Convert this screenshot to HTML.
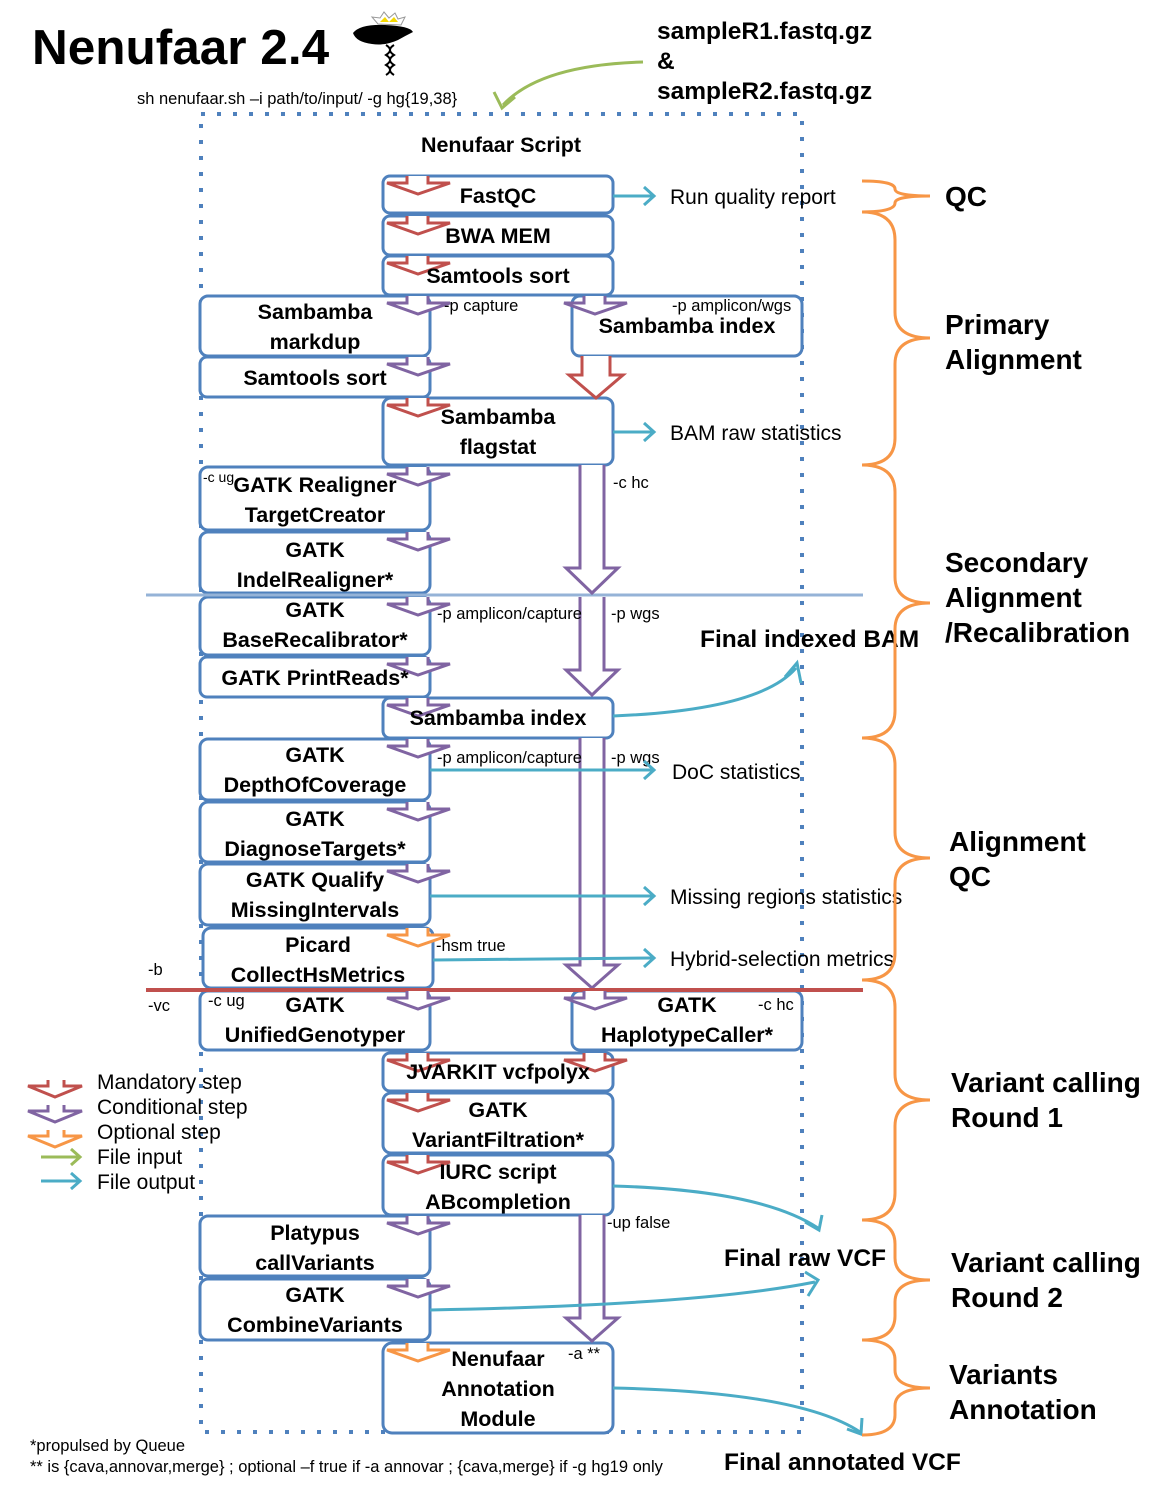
<!DOCTYPE html>
<html><head><meta charset="utf-8"><style>
html,body{margin:0;padding:0;background:#fff;}
svg{display:block;}
text{font-family:"Liberation Sans",sans-serif;fill:#000;}
.b{font-weight:bold;}
.bx{font-weight:bold;font-size:21.5px;text-anchor:middle;}
.s{font-size:16.5px;}
.r{font-size:21px;}
.sec{font-weight:bold;font-size:28px;}
</style></head><body>
<svg width="1166" height="1507" viewBox="0 0 1166 1507" xmlns="http://www.w3.org/2000/svg">
<!-- title -->
<text x="32" y="64" class="b" font-size="49.5">Nenufaar 2.4</text>
<!-- logo -->
<path d="M378,24 L372,17 L380,18 L384,12 L389,18 L395,13 L398,19 L405,17 L401,25 Z" fill="#fff" stroke="#999" stroke-width="1"/>
<path d="M380,22 L385,17 L389,22 L394,17 L398,22 Z" fill="#f5d800"/>
<path d="M353,33 Q360,24 385,25 Q410,26 413,32 Q405,36 398,40 Q385,46 372,44 Q356,42 353,33 Z" fill="#000"/>
<g stroke="#000" stroke-width="2" fill="none">
<path d="M386,45 Q394,50 386,55 Q394,60 386,65 Q394,70 386,75"/>
<path d="M394,45 Q386,50 394,55 Q386,60 394,65 Q386,70 394,75"/>
</g>
<text x="137" y="104" font-size="16.5">sh nenufaar.sh –i path/to/input/ -g hg{19,38}</text>
<text x="657" y="39" class="b" font-size="24.5">sampleR1.fastq.gz</text>
<text x="657" y="69" class="b" font-size="24.5">&amp;</text>
<text x="657" y="99" class="b" font-size="24.5">sampleR2.fastq.gz</text>
<!-- green input -->
<path d="M643,62 Q540,65 503,105" fill="none" stroke="#9bbb59" stroke-width="3"/>
<path d="M494,92 L502,108 L515,97" fill="none" stroke="#9bbb59" stroke-width="3"/>

<!-- dotted outline -->
<rect x="201" y="114" width="601" height="1318" fill="none" stroke="#4f81bd" stroke-width="4" stroke-dasharray="4 12"/>
<text x="501" y="152" class="b" font-size="21.5" text-anchor="middle">Nenufaar Script</text>

<!-- boxes -->
<g fill="#fff" stroke="#4f81bd" stroke-width="3">
<rect x="383" y="176" width="230" height="37" rx="7"/>
<rect x="383" y="216" width="230" height="39" rx="7"/>
<rect x="383" y="256" width="230" height="39" rx="7"/>
<rect x="200" y="296" width="230" height="60" rx="8"/>
<rect x="572" y="296" width="230" height="60" rx="8"/>
<rect x="200" y="357" width="230" height="40" rx="7"/>
<rect x="383" y="398" width="230" height="67" rx="8"/>
<rect x="200" y="467" width="230" height="63" rx="8"/>
<rect x="200" y="532" width="230" height="61" rx="8"/>
<rect x="200" y="597" width="230" height="58" rx="8"/>
<rect x="200" y="657" width="230" height="40" rx="7"/>
<rect x="383" y="698" width="230" height="40" rx="7"/>
<rect x="200" y="739" width="230" height="61" rx="8"/>
<rect x="200" y="802" width="230" height="60" rx="8"/>
<rect x="200" y="864" width="230" height="61" rx="8"/>
<rect x="203" y="928" width="230" height="60" rx="8"/>
<rect x="200" y="991" width="230" height="59" rx="8"/>
<rect x="572" y="991" width="230" height="59" rx="8"/>
<rect x="383" y="1053" width="230" height="38" rx="7"/>
<rect x="383" y="1093" width="230" height="60" rx="8"/>
<rect x="383" y="1155" width="230" height="60" rx="8"/>
<rect x="200" y="1216" width="230" height="60" rx="8"/>
<rect x="200" y="1279" width="230" height="61" rx="8"/>
<rect x="383" y="1343" width="230" height="90" rx="9"/>
</g>

<!-- lines -->
<line x1="146" y1="595" x2="863" y2="595" stroke="#95b3d7" stroke-width="3"/>

<!-- long arrows -->
<g fill="#fff" stroke-width="3" stroke-linejoin="miter">
<path d="M580,465 L580,568 L566,568 L592,593 L618,568 L604,568 L604,465" stroke="#8064a2"/>
<path d="M580,597 L580,670 L566,670 L592,695 L618,670 L604,670 L604,597" stroke="#8064a2"/>
<path d="M580,738 L580,965 L566,965 L592,988 L618,965 L604,965 L604,738" stroke="#8064a2"/>
<path d="M580,1215 L580,1318 L566,1318 L592,1341 L618,1318 L604,1318 L604,1215" stroke="#8064a2"/>
<path d="M582,356 L582,375 L569,375 L596,398 L623,375 L610,375 L610,356" stroke="#c0504d"/>
</g>
<line x1="146" y1="990" x2="863" y2="990" stroke="#c0504d" stroke-width="4"/>

<!-- small arrows -->
<g fill="#fff" stroke-width="3">
<g stroke="#c0504d">
<path d="M407,176 L407,183 L387,183 L418,194 L450,183 L428,183 L428,176"/>
<path d="M407,216 L407,223 L387,223 L418,234 L450,223 L428,223 L428,216"/>
<path d="M407,256 L407,263 L387,263 L418,274 L450,263 L428,263 L428,256"/>
<path d="M407,398 L407,405 L387,405 L418,416 L450,405 L428,405 L428,398"/>
<path d="M407,1053 L407,1060 L387,1060 L418,1071 L450,1060 L428,1060 L428,1053"/>
<path d="M584,1053 L584,1060 L564,1060 L595,1071 L627,1060 L605,1060 L605,1053"/>
<path d="M407,1093 L407,1100 L387,1100 L418,1111 L450,1100 L428,1100 L428,1093"/>
<path d="M407,1155 L407,1162 L387,1162 L418,1173 L450,1162 L428,1162 L428,1155"/>
</g>
<g stroke="#8064a2">
<path d="M407,296 L407,303 L387,303 L418,314 L450,303 L428,303 L428,296"/>
<path d="M584,296 L584,303 L564,303 L595,314 L627,303 L605,303 L605,296"/>
<path d="M407,357 L407,364 L387,364 L418,375 L450,364 L428,364 L428,357"/>
<path d="M407,467 L407,474 L387,474 L418,485 L450,474 L428,474 L428,467"/>
<path d="M407,532 L407,539 L387,539 L418,550 L450,539 L428,539 L428,532"/>
<path d="M407,597 L407,604 L387,604 L418,615 L450,604 L428,604 L428,597"/>
<path d="M407,657 L407,664 L387,664 L418,675 L450,664 L428,664 L428,657"/>
<path d="M407,698 L407,705 L387,705 L418,716 L450,705 L428,705 L428,698"/>
<path d="M407,739 L407,746 L387,746 L418,757 L450,746 L428,746 L428,739"/>
<path d="M407,802 L407,809 L387,809 L418,820 L450,809 L428,809 L428,802"/>
<path d="M407,864 L407,871 L387,871 L418,882 L450,871 L428,871 L428,864"/>
<path d="M407,991 L407,998 L387,998 L418,1009 L450,998 L428,998 L428,991"/>
<path d="M584,991 L584,998 L564,998 L595,1009 L627,998 L605,998 L605,991"/>
<path d="M407,1216 L407,1223 L387,1223 L418,1234 L450,1223 L428,1223 L428,1216"/>
<path d="M407,1279 L407,1286 L387,1286 L418,1297 L450,1286 L428,1286 L428,1279"/>
</g>
<g stroke="#f79646">
<path d="M407,928 L407,935 L387,935 L418,946 L450,935 L428,935 L428,928"/>
<path d="M407,1343 L407,1350 L387,1350 L418,1361 L450,1350 L428,1350 L428,1343"/>
</g>
</g>

<!-- box texts -->
<text x="498" y="203" class="bx">FastQC</text>
<text x="498" y="243" class="bx">BWA MEM</text>
<text x="498" y="283" class="bx">Samtools sort</text>
<text x="315" y="319" class="bx">Sambamba</text>
<text x="315" y="349" class="bx">markdup</text>
<text x="687" y="333" class="bx">Sambamba  index</text>
<text x="315" y="385" class="bx">Samtools sort</text>
<text x="498" y="424" class="bx">Sambamba</text>
<text x="498" y="454" class="bx">flagstat</text>
<text x="315" y="492" class="bx">GATK Realigner</text>
<text x="315" y="522" class="bx">TargetCreator</text>
<text x="315" y="557" class="bx">GATK</text>
<text x="315" y="587" class="bx">IndelRealigner*</text>
<text x="315" y="617" class="bx">GATK</text>
<text x="315" y="647" class="bx">BaseRecalibrator*</text>
<text x="315" y="685" class="bx">GATK PrintReads*</text>
<text x="498" y="725" class="bx">Sambamba  index</text>
<text x="315" y="762" class="bx">GATK</text>
<text x="315" y="792" class="bx">DepthOfCoverage</text>
<text x="315" y="826" class="bx">GATK</text>
<text x="315" y="856" class="bx">DiagnoseTargets*</text>
<text x="315" y="887" class="bx">GATK Qualify</text>
<text x="315" y="917" class="bx">MissingIntervals</text>
<text x="318" y="952" class="bx">Picard</text>
<text x="318" y="982" class="bx">CollectHsMetrics</text>
<text x="315" y="1012" class="bx">GATK</text>
<text x="315" y="1042" class="bx">UnifiedGenotyper</text>
<text x="687" y="1012" class="bx">GATK</text>
<text x="687" y="1042" class="bx">HaplotypeCaller*</text>
<text x="498" y="1079" class="bx">JVARKIT vcfpolyx</text>
<text x="498" y="1117" class="bx">GATK</text>
<text x="498" y="1147" class="bx">VariantFiltration*</text>
<text x="498" y="1179" class="bx">IURC script</text>
<text x="498" y="1209" class="bx">ABcompletion</text>
<text x="315" y="1240" class="bx">Platypus</text>
<text x="315" y="1270" class="bx">callVariants</text>
<text x="315" y="1302" class="bx">GATK</text>
<text x="315" y="1332" class="bx">CombineVariants</text>
<text x="498" y="1366" class="bx">Nenufaar</text>
<text x="498" y="1396" class="bx">Annotation</text>
<text x="498" y="1426" class="bx">Module</text>

<!-- small labels -->
<text x="444" y="311" class="s">-p capture</text>
<text x="672" y="311" class="s">-p amplicon/wgs</text>
<text x="203" y="482" font-size="14">-c ug</text>
<text x="613" y="488" class="s">-c hc</text>
<text x="437" y="619" class="s">-p amplicon/capture</text>
<text x="611" y="619" class="s">-p wgs</text>
<text x="437" y="763" class="s">-p amplicon/capture</text>
<text x="611" y="763" class="s">-p wgs</text>
<text x="436" y="951" class="s">-hsm true</text>
<text x="148" y="975" class="s">-b</text>
<text x="148" y="1011" class="s">-vc</text>
<text x="208" y="1006" class="s">-c ug</text>
<text x="758" y="1010" class="s">-c hc</text>
<text x="607" y="1228" class="s">-up false</text>
<text x="568" y="1359" class="s">-a **</text>

<!-- cyan outputs -->
<g fill="none" stroke="#4bacc6" stroke-width="3">
<line x1="613" y1="196" x2="654" y2="196"/><path d="M644,187 L654,196 L644,205"/>
<line x1="613" y1="432" x2="654" y2="432"/><path d="M644,423 L654,432 L644,441"/>
<line x1="430" y1="770" x2="654" y2="770"/><path d="M644,761 L654,770 L644,779"/>
<line x1="430" y1="896" x2="654" y2="896"/><path d="M644,887 L654,896 L644,905"/>
<line x1="433" y1="960" x2="654" y2="958"/><path d="M644,949 L654,958 L644,967"/>
<path d="M613,716 Q760,710 796,668"/><path d="M785,677 L797,663 L801,683"/>
<path d="M613,1186 Q760,1190 818,1228"/><path d="M805,1222 L819,1230 L822,1215"/>
<path d="M430,1310 Q700,1305 815,1282"/><path d="M808,1296 L818,1280 L805,1272"/>
<path d="M613,1388 Q800,1392 860,1432"/><path d="M847,1429 L861,1434 L862,1418"/>
</g>

<!-- right labels -->
<text x="670" y="204" class="r">Run quality report</text>
<text x="670" y="440" class="r">BAM raw statistics</text>
<text x="700" y="647" class="b" font-size="24.5">Final indexed BAM</text>
<text x="672" y="779" class="r">DoC statistics</text>
<text x="670" y="904" class="r">Missing regions statistics</text>
<text x="670" y="966" class="r">Hybrid-selection metrics</text>
<text x="724" y="1266" class="b" font-size="24.5">Final raw VCF</text>
<text x="724" y="1470" class="b" font-size="24.5">Final annotated VCF</text>

<!-- braces -->
<g fill="none" stroke="#f79646" stroke-width="3">
<path d="M862,181 Q895,181 895,189 Q895,196 930,196 Q895,196 895,203 Q895,212 862,212"/>
<path d="M862,212 Q895,212 895,240 L895,312 Q895,338 930,338 Q895,338 895,364 L895,438 Q895,465 862,465"/>
<path d="M862,465 Q895,465 895,492 L895,577 Q895,603 930,603 Q895,603 895,629 L895,711 Q895,738 862,738"/>
<path d="M862,738 Q895,738 895,765 L895,832 Q895,858 930,858 Q895,858 895,884 L895,953 Q895,980 862,980"/>
<path d="M862,980 Q895,980 895,1007 L895,1074 Q895,1100 930,1100 Q895,1100 895,1126 L895,1193 Q895,1220 862,1220"/>
<path d="M862,1220 Q895,1220 895,1244 L895,1258 Q895,1280 930,1280 Q895,1280 895,1302 L895,1316 Q895,1340 862,1340"/>
<path d="M862,1340 Q895,1340 895,1360 L895,1370 Q895,1388 930,1388 Q895,1388 895,1406 L895,1415 Q895,1435 862,1435"/>
</g>
<text x="945" y="206" class="sec">QC</text>
<text x="945" y="334" class="sec">Primary</text>
<text x="945" y="369" class="sec">Alignment</text>
<text x="945" y="572" class="sec">Secondary</text>
<text x="945" y="607" class="sec">Alignment</text>
<text x="945" y="642" class="sec">/Recalibration</text>
<text x="949" y="851" class="sec">Alignment</text>
<text x="949" y="886" class="sec">QC</text>
<text x="951" y="1092" class="sec">Variant calling</text>
<text x="951" y="1127" class="sec">Round 1</text>
<text x="951" y="1272" class="sec">Variant calling</text>
<text x="951" y="1307" class="sec">Round 2</text>
<text x="949" y="1384" class="sec">Variants</text>
<text x="949" y="1419" class="sec">Annotation</text>

<!-- legend -->
<g fill="#fff" stroke-width="3">
<path d="M48,1080 L48,1086 L28,1086 L55,1097 L82,1086 L64,1086 L64,1080" stroke="#c0504d"/>
<path d="M48,1105 L48,1111 L28,1111 L55,1122 L82,1111 L64,1111 L64,1105" stroke="#8064a2"/>
<path d="M48,1130 L48,1136 L28,1136 L55,1147 L82,1136 L64,1136 L64,1130" stroke="#f79646"/>
</g>
<g fill="none" stroke-width="3">
<line x1="41" y1="1157" x2="80" y2="1157" stroke="#9bbb59"/><path d="M71,1149 L80,1157 L71,1165" stroke="#9bbb59"/>
<line x1="41" y1="1181" x2="80" y2="1181" stroke="#4bacc6"/><path d="M71,1173 L80,1181 L71,1189" stroke="#4bacc6"/>
</g>
<text x="97" y="1089" font-size="21">Mandatory step</text>
<text x="97" y="1114" font-size="21">Conditional step</text>
<text x="97" y="1139" font-size="21">Optional step</text>
<text x="97" y="1164" font-size="21">File input</text>
<text x="97" y="1189" font-size="21">File output</text>

<text x="30" y="1451" font-size="16.5">*propulsed by Queue</text>
<text x="30" y="1472" font-size="16.5">** is {cava,annovar,merge} ; optional –f true if -a annovar ; {cava,merge} if -g hg19 only</text>
</svg>
</body></html>
